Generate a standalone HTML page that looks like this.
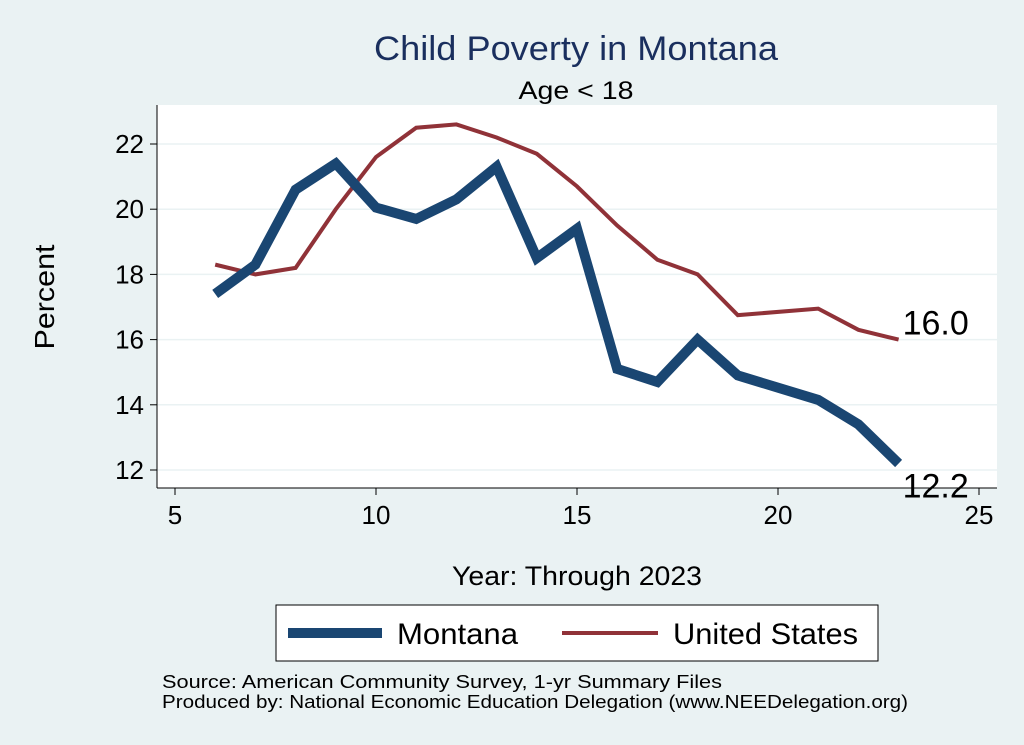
<!DOCTYPE html>
<html><head><meta charset="utf-8"><style>
body{margin:0;background:#eaf2f3;}
svg{display:block;font-family:"Liberation Sans",Arial,sans-serif;}
</style></head><body>
<svg width="1024" height="745">
<rect x="0" y="0" width="1024" height="745" fill="#eaf2f3"/>
<rect x="157" y="105" width="840" height="383" fill="#ffffff"/>
<text x="576" y="60" text-anchor="middle" font-size="34" textLength="404" lengthAdjust="spacingAndGlyphs" fill="#1a2f5e">Child Poverty in Montana</text>
<text x="576" y="99" text-anchor="middle" font-size="25" textLength="115" lengthAdjust="spacingAndGlyphs" fill="#000">Age &lt; 18</text>
<g id="grid"></g>
<g id="axes"></g>
<g id="series"></g>
<text x="54" y="297" text-anchor="middle" font-size="28" textLength="105" lengthAdjust="spacingAndGlyphs" transform="rotate(-90 54 297)">Percent</text>
<text x="577" y="585" text-anchor="middle" font-size="27" textLength="250" lengthAdjust="spacingAndGlyphs">Year: Through 2023</text>
<g>
<rect x="276" y="605" width="602" height="56" fill="#fff" stroke="#000" stroke-width="1"/>
<g><line x1="288" y1="633" x2="382" y2="633" stroke="#1a4672" stroke-width="10"/><text x="397" y="644" font-size="30" textLength="121" lengthAdjust="spacingAndGlyphs">Montana</text></g>
<g><line x1="562" y1="633" x2="658" y2="633" stroke="#903238" stroke-width="4"/><text x="673" y="644" font-size="30" textLength="185" lengthAdjust="spacingAndGlyphs">United States</text></g>
</g>
<text x="162" y="688" font-size="18" textLength="560" lengthAdjust="spacingAndGlyphs">Source: American Community Survey, 1-yr Summary Files</text>
<text x="162" y="708" font-size="18" textLength="746" lengthAdjust="spacingAndGlyphs">Produced by: National Economic Education Delegation (www.NEEDelegation.org)</text>
</svg>
<script>
const mtYears=[6,7,8,9,10,11,12,13,14,15,16,17,18,19,21,22,23];
const mtValues=[17.4,18.3,20.6,21.4,20.05,19.7,20.3,21.3,18.5,19.4,15.1,14.7,16.0,14.9,14.15,13.4,12.2];
const usYears=[6,7,8,9,10,11,12,13,14,15,16,17,18,19,21,22,23];
const usValues=[18.3,18.0,18.2,20.0,21.6,22.5,22.6,22.2,21.7,20.7,19.5,18.45,18.0,16.75,16.95,16.3,16.0];
const xTicks=[5,10,15,20,25];
const yTicks=[12,14,16,18,20,22];
const NS="http://www.w3.org/2000/svg";
const xs=v=>175+(v-5)*40.2;
const ys=v=>470-(v-12)*32.6;
function mk(t,a,p){const e=document.createElementNS(NS,t);for(const k in a)e.setAttribute(k,a[k]);p.appendChild(e);return e;}
const grid=document.getElementById('grid'),axes=document.getElementById('axes'),ser=document.getElementById('series');
yTicks.forEach(v=>{
 const g=mk('line',{x1:157,x2:997,y1:ys(v),y2:ys(v),stroke:'#eaf2f3','stroke-width':1.5},grid);
 
 
 mk('line',{x1:150,x2:157,y1:ys(v),y2:ys(v),stroke:'#000'},axes);
 const t=mk('text',{x:144,y:ys(v)+9,'text-anchor':'end','font-size':26},axes);t.textContent=v;
 
 
});
mk('line',{x1:157,x2:157,y1:105,y2:488,stroke:'#000'},axes);
mk('line',{x1:157,x2:997,y1:488,y2:488,stroke:'#000'},axes);
xTicks.forEach(v=>{
 mk('line',{x1:xs(v),x2:xs(v),y1:488,y2:495,stroke:'#000'},axes);
 const t=mk('text',{x:xs(v),y:524,'text-anchor':'middle','font-size':26},axes);t.textContent=v;
 
 
});
function line(xsArr,vals,color,w,name){
 const p=mk('polyline',{points:xsArr.map((x,i)=>xs(x)+','+ys(vals[i])).join(' '),fill:'none',stroke:color,'stroke-width':w,'stroke-linejoin':'miter'},ser);
 
 
}
line(usYears,usValues,'#903238',4,'united-states-line');
line(mtYears,mtValues,'#1a4672',10,'montana-line');
const lu=mk('text',{x:xs(usYears[usYears.length-1])+4,y:ys(usValues[usValues.length-1])-5,'font-size':34},ser);
lu.textContent=usValues[usValues.length-1].toFixed(1);


const lm=mk('text',{x:xs(mtYears[mtYears.length-1])+4,y:ys(mtValues[mtValues.length-1])+34,'font-size':34},ser);
lm.textContent=mtValues[mtValues.length-1].toFixed(1);


</script>
</body></html>
